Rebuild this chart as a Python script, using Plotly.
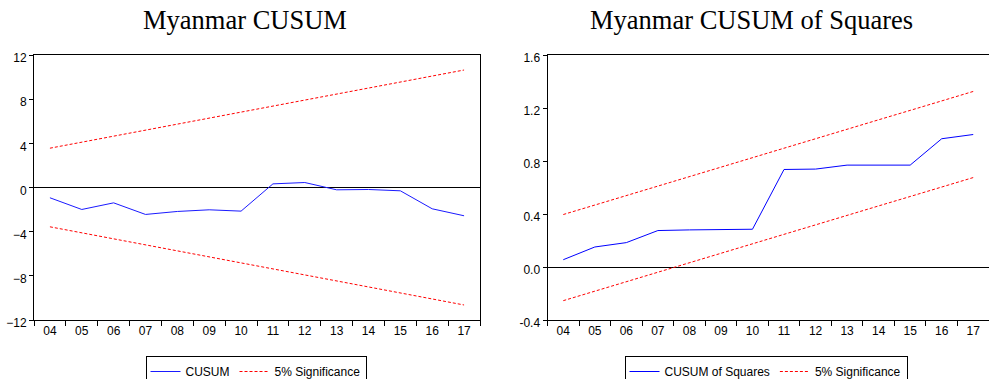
import plotly.graph_objects as go

years = ["04", "05", "06", "07", "08", "09", "10", "11", "12", "13", "14", "15", "16", "17"]

cusum = [-0.93, -1.99, -1.39, -2.44, -2.17, -2.02, -2.14, 0.33, 0.45, -0.21, -0.18, -0.30, -1.93, -2.56]
cusum_upper = [3.56, 4.10, 4.65, 5.19, 5.74, 6.28, 6.83, 7.37, 7.92, 8.46, 9.01, 9.55, 10.10, 10.64]
cusum_lower = [-3.56, -4.10, -4.65, -5.19, -5.74, -6.28, -6.83, -7.37, -7.92, -8.46, -9.01, -9.55, -10.10, -10.64]

cusumsq = [0.055, 0.151, 0.184, 0.275, 0.280, 0.282, 0.285, 0.736, 0.739, 0.769, 0.769, 0.769, 0.968, 1.000]
sq_upper = [0.396, 0.468, 0.539, 0.611, 0.682, 0.754, 0.825, 0.896, 0.968, 1.039, 1.111, 1.182, 1.254, 1.325]
sq_lower = [-0.254, -0.182, -0.111, -0.039, 0.032, 0.104, 0.175, 0.246, 0.318, 0.389, 0.461, 0.532, 0.604, 0.675]

left_ticks = [-12, -8, -4, 0, 4, 8, 12]
right_ticks = [-0.4, 0.0, 0.4, 0.8, 1.2, 1.6]
right_ticktext = ["-0.4", "0.0", "0.4", "0.8", "1.2", "1.6"]

# Body margin is removed by post_script, so the figure fills the whole window.
W, H = 989, 379


def px(x):
    return x / W


def py(y):
    return 1 - y / H


BLUE = "#1a1aff"
RED = "#ff0000"
SANS = "Liberation Sans, Arial, sans-serif"
SERIF = "Liberation Serif, Times New Roman, serif"

fig = go.Figure()

# Left panel
fig.add_trace(go.Scatter(x=years, y=cusum, mode="lines", name="CUSUM",
                         line=dict(color=BLUE, width=1), xaxis="x", yaxis="y", legend="legend"))
fig.add_trace(go.Scatter(x=years, y=cusum_upper, mode="lines", name="5% Significance",
                         line=dict(color=RED, width=1, dash="3px,2px"), xaxis="x", yaxis="y",
                         legend="legend", legendgroup="sig1"))
fig.add_trace(go.Scatter(x=years, y=cusum_lower, mode="lines", name="5% Significance",
                         line=dict(color=RED, width=1, dash="3px,2px"), xaxis="x", yaxis="y",
                         legend="legend", legendgroup="sig1", showlegend=False))

# Right panel
fig.add_trace(go.Scatter(x=years, y=cusumsq, mode="lines", name="CUSUM of Squares",
                         line=dict(color="#0000ff", width=1), xaxis="x2", yaxis="y2", legend="legend2"))
fig.add_trace(go.Scatter(x=years, y=sq_upper, mode="lines", name="5% Significance",
                         line=dict(color=RED, width=1, dash="3px,2px"), xaxis="x2", yaxis="y2",
                         legend="legend2", legendgroup="sig2"))
fig.add_trace(go.Scatter(x=years, y=sq_lower, mode="lines", name="5% Significance",
                         line=dict(color=RED, width=1, dash="3px,2px"), xaxis="x2", yaxis="y2",
                         legend="legend2", legendgroup="sig2", showlegend=False))

ydom = [py(320), py(55)]

xcommon = dict(type="category", range=[-0.5, 13.5], tickson="boundaries", ticks="outside",
               ticklen=5, tickcolor="black", showline=True, linecolor="black", linewidth=1,
               mirror=True, showgrid=False, zeroline=False, automargin=False,
               tickfont=dict(family=SANS, size=12, color="black"))
ycommon = dict(ticks="outside", ticklen=4, tickcolor="black", showline=True, linecolor="black",
               linewidth=1, mirror=True, showgrid=False, zeroline=True, zerolinecolor="black",
               zerolinewidth=1, automargin=False, ticklabelshift=3,
               tickfont=dict(family=SANS, size=12, color="black"))

fig.update_layout(
    width=W, height=H,
    margin=dict(l=0, r=0, t=0, b=0, autoexpand=False),
    paper_bgcolor="white", plot_bgcolor="white",
    font=dict(family=SANS, size=12, color="black"),
    xaxis=dict(domain=[px(34), px(480)], anchor="y", **xcommon),
    yaxis=dict(domain=ydom, anchor="x", range=[-12, 12], tickvals=left_ticks, **ycommon),
    xaxis2=dict(domain=[px(547.5), 1.0], anchor="y2", **xcommon),
    yaxis2=dict(domain=ydom, anchor="x2", range=[-0.4, 1.6], tickvals=right_ticks,
                ticktext=right_ticktext, **ycommon),
    legend=dict(orientation="h", x=px(256), xanchor="center", y=py(356), yanchor="top",
                bordercolor="black", borderwidth=1, bgcolor="white",
                font=dict(family=SANS, size=12, color="black"), itemwidth=30),
    legend2=dict(orientation="h", x=px(766), xanchor="center", y=py(356), yanchor="top",
                 bordercolor="black", borderwidth=1, bgcolor="white",
                 font=dict(family=SANS, size=12, color="black"), itemwidth=30),
    annotations=[
        dict(text="Myanmar CUSUM", x=px(245), y=py(20), xref="paper", yref="paper",
             xanchor="center", yanchor="middle", showarrow=False,
             font=dict(family=SERIF, size=26.5, color="black")),
        dict(text="Myanmar CUSUM of Squares", x=px(751), y=py(20), xref="paper", yref="paper",
             xanchor="center", yanchor="middle", showarrow=False,
             font=dict(family=SERIF, size=26.5, color="black")),
    ],
)

fig.write_html("out.html",
               config={"displayModeBar": False},
               post_script="document.body.style.margin='0';document.body.style.overflow='hidden';")
